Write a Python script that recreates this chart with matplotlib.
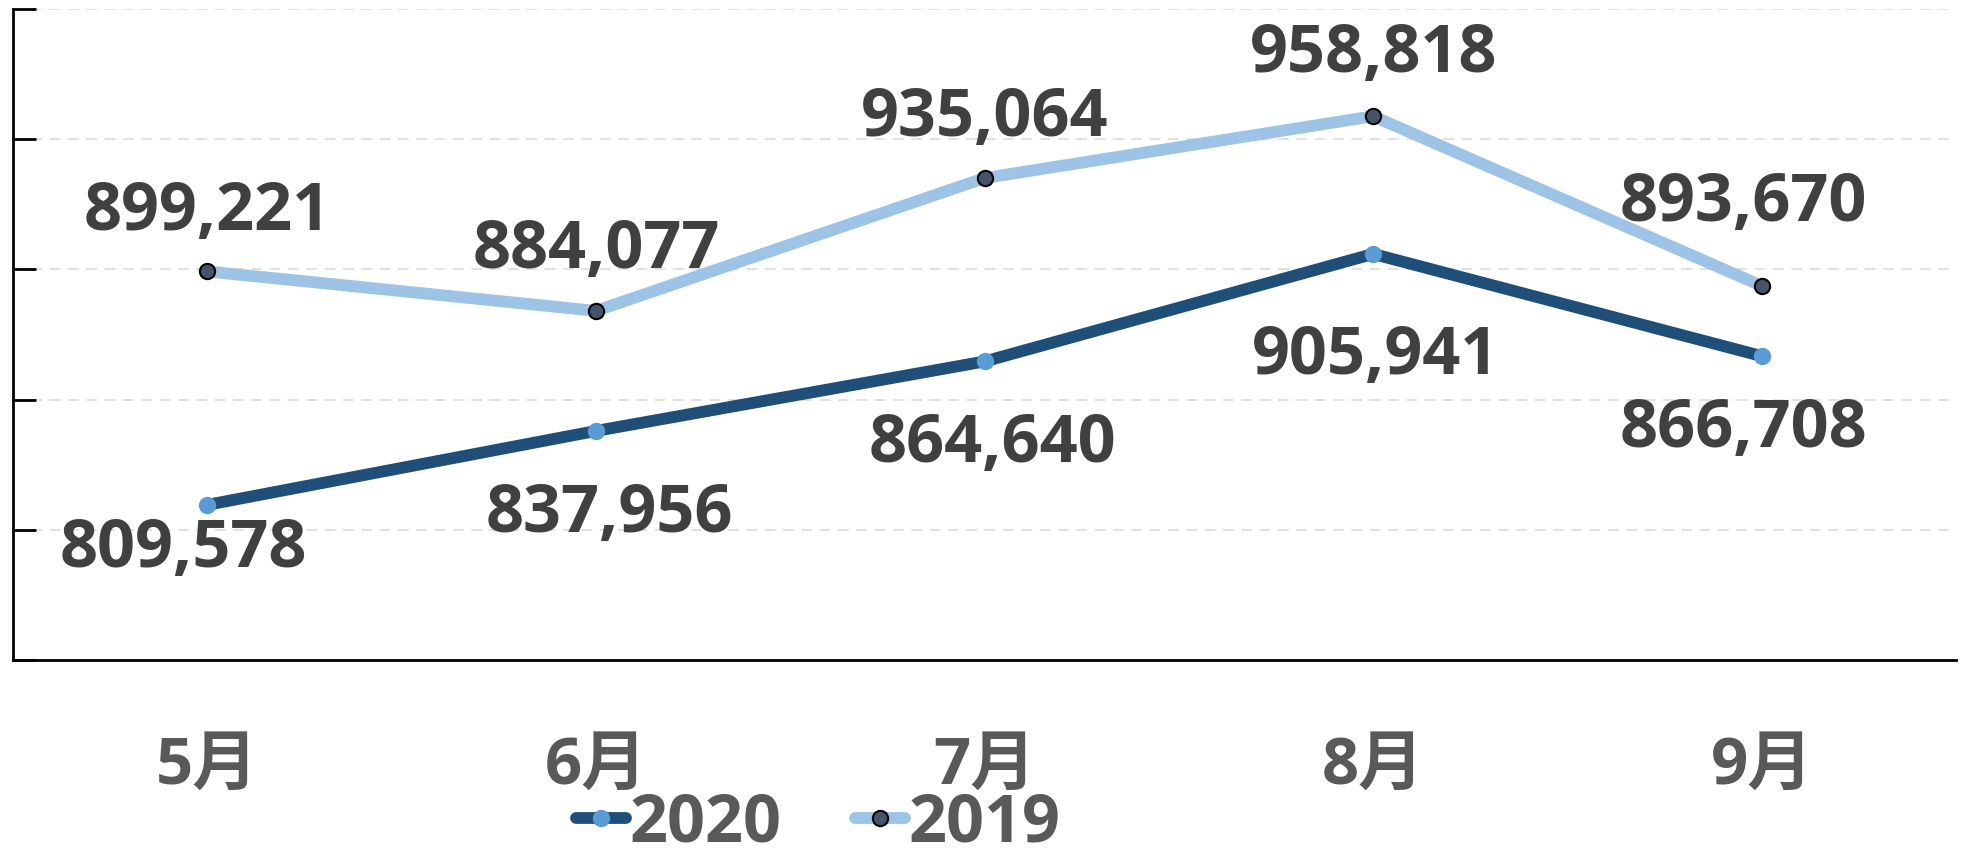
import matplotlib
matplotlib.use("Agg")
import matplotlib.pyplot as plt

months = ["5月", "6月", "7月", "8月", "9月"]
series_2020 = [809578, 837956, 864640, 905941, 866708]
series_2019 = [899221, 884077, 935064, 958818, 893670]
y_ticks = [750000, 800000, 850000, 900000, 950000, 1000000]

# label offsets in pixels (layout only)
off_2019 = [(0, 59), (0, 60), (0, 60), (0, 62), (-18, 82)]
off_2020 = [(-24, -45), (13, -84), (8, -83), (2, -103), (-18, -73)]

fig = plt.figure(figsize=(19.72, 8.56), dpi=100)
ax = fig.add_axes([13/1972, (856-660)/856, (1956-13)/1972, (660-9)/856])

x = list(range(len(months)))
ax.plot(x, series_2020, color="#1F4E79", lw=8.5, marker="o", ms=12.5,
        markerfacecolor="#5B9BD5", markeredgewidth=0, label="2020", zorder=3,
        solid_capstyle="round")
ax.plot(x, series_2019, color="#9DC3E6", lw=8.5, marker="o", ms=11,
        markerfacecolor="#44546A", markeredgecolor="black", markeredgewidth=1.5,
        label="2019", zorder=3, solid_capstyle="round")

lab_font = dict(family="Open Sans", weight="bold", size=48, color="#404040")
for i, v in enumerate(series_2019):
    ax.annotate(f"{v:,}", (x[i], v), xytext=off_2019[i], textcoords="offset pixels",
                ha="center", va="center", **lab_font)
for i, v in enumerate(series_2020):
    ax.annotate(f"{v:,}", (x[i], v), xytext=off_2020[i], textcoords="offset pixels",
                ha="center", va="center", **lab_font)

ax.set_xlim(-0.5, 4.5)
ax.set_ylim(750000, 1000000)
ax.set_yticks(y_ticks)
ax.set_yticklabels([])
ax.set_xticks(x)
ax.set_xticklabels(months, family=["Open Sans", "Noto Sans CJK SC"], weight="bold",
                   size=47, color="#595959")
ax.tick_params(axis="x", length=0, pad=54)
ax.tick_params(axis="y", direction="in", length=16.5, width=2, color="black")

for s in ["top", "right"]:
    ax.spines[s].set_visible(False)
for s in ["left", "bottom"]:
    ax.spines[s].set_linewidth(2)
    ax.spines[s].set_color("black")

ax.yaxis.grid(True, color="#D9D9D9", lw=1.1, linestyle=(0, (7, 5)))
ax.set_axisbelow(True)

leg = fig.legend(loc="center", bbox_to_anchor=(0.415, 0.037), ncol=2, frameon=False,
                 handlelength=0.75, handletextpad=0.05, columnspacing=1.1,
                 borderpad=0.1,
                 prop=dict(family="Open Sans", weight="bold", size=48))
for t in leg.get_texts():
    t.set_color("#595959")

fig.savefig("out.png", dpi=100)
